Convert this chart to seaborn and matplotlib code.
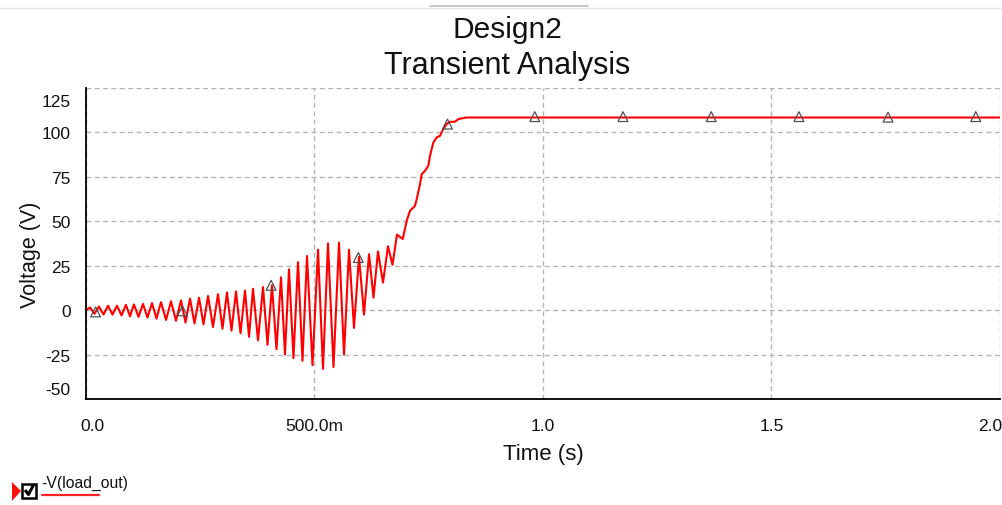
import numpy as np
import pandas as pd
import matplotlib
matplotlib.use("Agg")
import matplotlib.pyplot as plt
import matplotlib.transforms as mtransforms
from matplotlib.patches import Polygon, Rectangle
from matplotlib.lines import Line2D
import seaborn as sns

# ---------------- data ----------------
TIME_S = [0.0, 0.0088, 0.0186, 0.0284, 0.0383, 0.0481, 0.0580, 0.0678, 0.0777,
          0.0875, 0.0963, 0.1050, 0.1149, 0.1247, 0.1346, 0.1444, 0.1543, 0.1641,
          0.1751, 0.1860, 0.1969, 0.2079, 0.2177, 0.2276, 0.2374, 0.2473, 0.2571,
          0.2670, 0.2779, 0.2888, 0.2987, 0.3085, 0.3184, 0.3282, 0.3381, 0.3479,
          0.3567, 0.3654, 0.3764, 0.3873, 0.3972, 0.4070, 0.4168, 0.4267, 0.4354,
          0.4442, 0.4540, 0.4639, 0.4737, 0.4836, 0.4956, 0.5077, 0.5186, 0.5295,
          0.5416, 0.5536, 0.5646, 0.5755, 0.5864, 0.5974, 0.6083, 0.6193, 0.6291,
          0.6389, 0.6499, 0.6608, 0.6707, 0.6805, 0.6930, 0.7018, 0.7090, 0.7199,
          0.7236, 0.7309, 0.7346, 0.7418, 0.7490, 0.7527, 0.7600, 0.7674, 0.7746,
          0.7818, 0.7892, 0.7965, 0.8074, 0.8147, 0.8330, 2.0]
VOLTAGE_V = [0.0, 1.5, -2.0, 2.0, -2.5, 2.5, -2.5, 2.5, -3.0,
             3.0, -3.5, 3.2, -3.8, 3.5, -4.2, 4.0, -4.8, 4.5,
             -5.5, 5.0, -6.0, 5.5, -7.0, 6.5, -7.5, 7.0, -8.0,
             8.0, -9.5, 9.0, -10.5, 10.0, -11.5, 10.5, -13.0, 11.0,
             -15.0, 12.0, -17.0, 13.0, -19.5, 14.0, -22.0, 18.5, -25.0,
             23.0, -27.0, 27.0, -28.5, 30.5, -31.0, 34.0, -33.0, 37.5,
             -32.0, 38.0, -25.0, 34.0, -10.0, 30.0, -2.5, 31.5, 7.0,
             33.0, 15.5, 36.0, 25.5, 42.5, 40.0, 50.3, 55.9, 58.7,
             62.4, 70.9, 76.5, 78.4, 81.2, 86.8, 94.3, 97.2, 98.1,
             101.9, 104.7, 106.0, 106.0, 107.5, 108.4, 108.4]

MARKER_T = [0.021, 0.211, 0.405, 0.596, 0.791, 0.982, 1.175, 1.368, 1.560, 1.755, 1.947]
MARKER_V = [-1.0, -0.4, 14.0, 29.6, 104.7, 108.9, 108.9, 108.9, 108.9, 108.6, 108.9]

X_TICKS = [0.0, 0.5, 1.0, 1.5, 2.0]
X_TICK_LABELS = ["0.0", "500.0m", "1.0", "1.5", "2.0"]
Y_TICKS = [-50, -25, 0, 25, 50, 75, 100, 125]
Y_TICK_LABELS = ["-50", "-25", "0", "25", "50", "75", "100", "125"]

TITLE_1 = "Design2"
TITLE_2 = "Transient Analysis"
X_LABEL = "Time (s)"
Y_LABEL = "Voltage (V)"
LEGEND_LABEL = "-V(load_out)"

# ---------------- styling ----------------
sns.set_theme(style="white")
plt.rcParams["font.family"] = ["Liberation Sans", "DejaVu Sans"]

W, H = 1003, 506
fig = plt.figure(figsize=(W / 100, H / 100), dpi=100)
fig.patch.set_facecolor("white")

ax = fig.add_axes([86 / W, (H - 400) / H, 914 / W, 311 / H])
ax.set_facecolor("white")

df = pd.DataFrame({"t": TIME_S, "v": VOLTAGE_V})
mk = pd.DataFrame({"t": MARKER_T, "v": MARKER_V})

sns.lineplot(data=df, x="t", y="v", ax=ax, color="#ff0000", linewidth=1.5,
             estimator=None, sort=False, zorder=3)
sns.scatterplot(data=mk, x="t", y="v", ax=ax, marker="^", s=50,
                facecolor="none", edgecolor="#505050", linewidth=0.9, zorder=4)

ax.set_xlim(0, 2.0)
ax.set_ylim(-50, 125)
ax.set_xticks(X_TICKS)
ax.set_xticklabels(X_TICK_LABELS)
ax.set_yticks(Y_TICKS)
ax.set_yticklabels(Y_TICK_LABELS)

ax.grid(True, color="#b4b4b4", linestyle=(0, (3.5, 2.5)), linewidth=1.0)
for s in ["top", "right"]:
    ax.spines[s].set_visible(False)
for s in ["left", "bottom"]:
    ax.spines[s].set_color("black")
    ax.spines[s].set_linewidth(1.3)
    ax.spines[s].set_zorder(5)

ax.tick_params(axis="both", which="major", direction="out", length=4, width=1.0,
               color="black", labelsize=12.5, labelcolor="#111111")
ax.tick_params(axis="x", pad=10)
ax.tick_params(axis="y", pad=7)

ax.set_xlabel(X_LABEL, fontsize=16, color="#111111", labelpad=7)
ax.set_ylabel(Y_LABEL, fontsize=15.5, color="#111111")
ax.yaxis.set_label_coords(-0.049, (400 - 255) / 311)

# title lines
fig.text(507 / W, 1 - 30 / H, TITLE_1, ha="center", va="center", fontsize=21.5, color="#111111")
fig.text(507 / W, 1 - 66 / H, TITLE_2, ha="center", va="center", fontsize=22, color="#111111")

# faint top line
fig.add_artist(Line2D([0, 1], [1 - 9 / H, 1 - 9 / H], color="#e6e6e6", lw=1.0,
                      transform=fig.transFigure))
fig.add_artist(Line2D([430 / W, 588 / W], [1 - 7 / H, 1 - 7 / H], color="#bdbdbd", lw=1.2,
                      transform=fig.transFigure))

# shift edge tick labels inward like the reference
fig.canvas.draw()
for lab in ax.get_yticklabels():
    if lab.get_text() == "125":
        lab.set_transform(lab.get_transform() + mtransforms.ScaledTranslation(0, -12 / 100, fig.dpi_scale_trans))
    if lab.get_text() == "-50":
        lab.set_transform(lab.get_transform() + mtransforms.ScaledTranslation(0, 11 / 100, fig.dpi_scale_trans))
for lab in ax.get_xticklabels():
    if lab.get_text() == "0.0":
        lab.set_transform(lab.get_transform() + mtransforms.ScaledTranslation(6 / 100, 0, fig.dpi_scale_trans))
    if lab.get_text() == "2.0":
        lab.set_transform(lab.get_transform() + mtransforms.ScaledTranslation(-10 / 100, 0, fig.dpi_scale_trans))

# legend-like widget at bottom left
def px(x, y):
    return (x / W, 1 - y / H)

fig.add_artist(Polygon([px(12, 483), px(21, 492), px(12, 502)], closed=True,
                       facecolor="#ff1010", edgecolor="none", transform=fig.transFigure))
fig.add_artist(Rectangle(px(22, 499), 14 / W, 14 / H, facecolor="white", edgecolor="black",
                         lw=1.8, transform=fig.transFigure))
cx, cy = zip(px(25, 491), px(28.5, 495.5), px(33.5, 486))
fig.add_artist(Line2D(cx, cy, color="black", lw=2.2, transform=fig.transFigure,
                      solid_capstyle="butt"))
fig.text(41 / W, 1 - 483 / H, LEGEND_LABEL, ha="left", va="center", fontsize=11.3, color="#111111")
fig.add_artist(Line2D([42 / W, 99 / W], [1 - 496 / H, 1 - 496 / H], color="#ff2020", lw=1.6,
                      transform=fig.transFigure))

fig.savefig("out.png", dpi=100, facecolor="white")
